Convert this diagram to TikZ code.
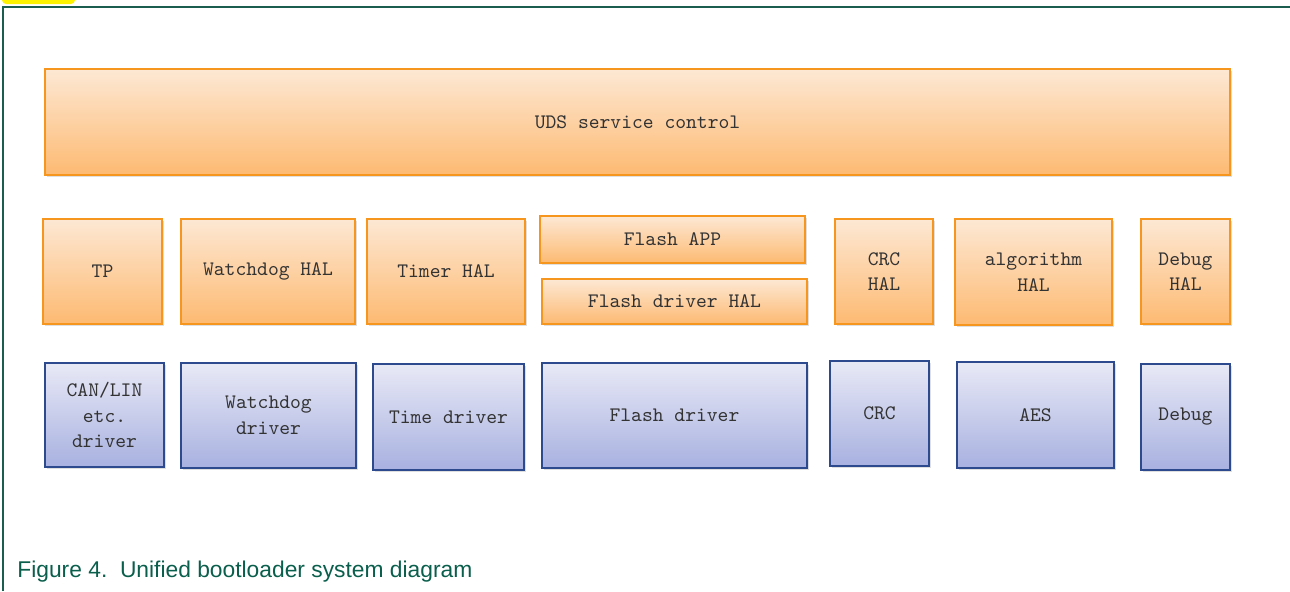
\documentclass[tikz,border=0pt]{standalone}
\usepackage{fontspec}
\newfontfamily\capfont{Liberation Sans}
\usetikzlibrary{shadows}
\definecolor{framegreen}{HTML}{1B5E4F}
\definecolor{capgreen}{HTML}{0A5E4C}
\definecolor{halline}{HTML}{F7961E}
\definecolor{haltop}{HTML}{FDE8D4}
\definecolor{halbot}{HTML}{FDBA72}
\definecolor{drvline}{HTML}{2E4A8E}
\definecolor{drvtop}{HTML}{E8E9F6}
\definecolor{drvbot}{HTML}{A8B1E0}
\definecolor{boxtext}{HTML}{333333}
\tikzset{
	layer/.style={draw,line width=1pt,align=center,inner sep=0pt,text=boxtext,
		font=\fontsize{10.3pt}{12.75pt}\selectfont\ttfamily,
		drop shadow={shadow xshift=1pt,shadow yshift=-1.2pt,opacity=.25}},
	hal/.style={layer,draw=halline,top color=haltop,bottom color=halbot},
	drv/.style={layer,draw=drvline,top color=drvtop,bottom color=drvbot},
	wh/.style 2 args={minimum width=#1*.5pt,minimum height=#2*.5pt}
}
\begin{document}
\begin{tikzpicture}[x=.5pt,y=-.5pt]
	\useasboundingbox (0,0) rectangle (1290,591);
	\fill[yellow,rounded corners=2pt] (2,-6) rectangle (75,4);
	\draw[framegreen,line width=1.2pt] (3,591) -- (3,7) -- (1290,7);
	% service layer
	\node[hal,wh={1185}{106}] (uds) at (637.5,122) {UDS service control};
	% HAL layer
	\node[hal,wh={119}{105}] (tp) at (102.5,271) {TP};
	\node[hal,wh={174}{105}] (wdghal) at (268,271) {Watchdog HAL};
	\node[hal,wh={158}{105}] (timhal) at (446,271) {Timer HAL};
	\node[hal,wh={265}{47}] (flapp) at (672.5,239.5) {Flash APP};
	\node[hal,wh={265}{45}] (fldhal) at (674.5,301.5) {Flash driver HAL};
	\node[hal,wh={98}{105}] (crchal) at (884,271.5) {CRC\\HAL};
	\node[hal,wh={157}{106}] (alghal) at (1033.5,272) {algorithm\\HAL};
	\node[hal,wh={89}{105}] (dbghal) at (1185.5,271.5) {Debug\\HAL};
	% driver layer
	\node[drv,wh={119}{104}] (candrv) at (104.5,415) {CAN/LIN\\etc.\\driver};
	\node[drv,wh={175}{105}] (wdgdrv) at (268.5,415.5) {Watchdog\\driver};
	\node[drv,wh={151}{106}] (timdrv) at (448.5,417) {Time driver};
	\node[drv,wh={265}{105}] (fldrv) at (674.5,415.5) {Flash driver};
	\node[drv,wh={99}{105}] (crcdrv) at (879.5,413.5) {CRC};
	\node[drv,wh={157}{106}] (aes) at (1035.5,415) {AES};
	\node[drv,wh={89}{106}] (dbgdrv) at (1185.5,417) {Debug};
	\node[anchor=west,inner sep=0pt,text=capgreen,font=\capfont\fontsize{11.4pt}{13pt}\selectfont] (cap) at (17,572) {Figure 4.\ \ Unified bootloader system diagram};
\end{tikzpicture}
\end{document}
